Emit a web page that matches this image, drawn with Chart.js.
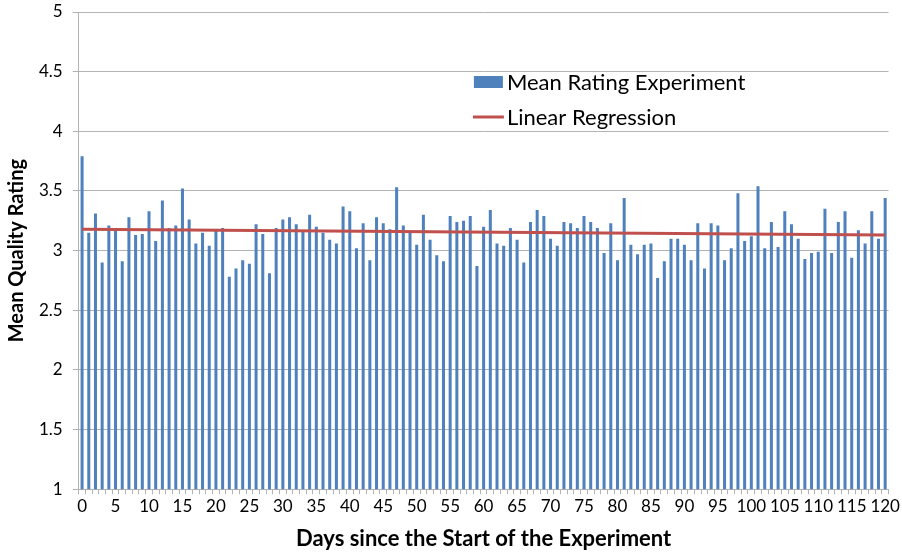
<!DOCTYPE html>
<html>
<head>
<meta charset="utf-8">
<script src="https://cdn.jsdelivr.net/npm/chart.js@4"></script>
<style>
  html, body { margin: 0; padding: 0; background: #fff; }
  #wrap { width: 902px; height: 554px; }
</style>
</head>
<body>
<div id="wrap"><canvas id="ratingChart"></canvas></div>
<script>
// daily mean rating, day 0 .. 120
var days = [];
for (var d = 0; d <= 120; d++) days.push(String(d));

var meanRating = [
  3.79, 3.15, 3.31, 2.90, 3.21, 3.17, 2.91, 3.28, 3.13, 3.14,
  3.33, 3.08, 3.42, 3.19, 3.21, 3.52, 3.26, 3.06, 3.15, 3.04,
  3.17, 3.19, 2.78, 2.85, 2.92, 2.89, 3.22, 3.14, 2.81, 3.19,
  3.26, 3.28, 3.22, 3.16, 3.30, 3.20, 3.15, 3.09, 3.06, 3.37,
  3.33, 3.02, 3.23, 2.92, 3.28, 3.23, 3.18, 3.53, 3.21, 3.15,
  3.05, 3.30, 3.09, 2.96, 2.91, 3.29, 3.24, 3.25, 3.29, 2.87,
  3.20, 3.34, 3.06, 3.04, 3.19, 3.09, 2.90, 3.24, 3.34, 3.29,
  3.10, 3.04, 3.24, 3.23, 3.19, 3.29, 3.24, 3.19, 2.98, 3.23,
  2.92, 3.44, 3.05, 2.97, 3.05, 3.06, 2.77, 2.91, 3.10, 3.10,
  3.05, 2.92, 3.23, 2.85, 3.23, 3.21, 2.92, 3.02, 3.48, 3.08,
  3.12, 3.54, 3.02, 3.24, 3.03, 3.33, 3.22, 3.10, 2.93, 2.98,
  2.99, 3.35, 2.98, 3.24, 3.33, 2.94, 3.17, 3.06, 3.33, 3.10,
  3.44
];

// regression line end points
var regressionDays = ["0", "120"];
var regressionValues = [3.18, 3.13];

var yTicks = [1, 1.5, 2, 2.5, 3, 3.5, 4, 4.5, 5];

var regressionPoints = regressionDays.map(function (d, i) {
  return { x: d, y: regressionValues[i] };
});

var FONT = "Lato, 'Noto Sans', sans-serif";
var gridGrey = '#b3b3b3';

// legend drawn inside the plot area like the original
var innerLegend = {
  id: 'innerLegend',
  afterDraw: function (chart) {
    var ctx = chart.ctx;
    var area = chart.chartArea;
    var x = area.left + (area.right - area.left) * 0.488;
    var y = 82;
    ctx.save();
    ctx.font = '22px ' + FONT;
    ctx.textBaseline = 'middle';
    chart.data.datasets.forEach(function (ds, i) {
      var yy = y + i * 35;
      if (ds.type === 'line') {
        ctx.strokeStyle = ds.borderColor;
        ctx.lineWidth = 3;
        ctx.beginPath();
        ctx.moveTo(x - 1, yy);
        ctx.lineTo(x + 30, yy);
        ctx.stroke();
      } else {
        ctx.fillStyle = ds.backgroundColor;
        ctx.fillRect(x, yy - 6, 29, 12);
      }
      ctx.fillStyle = '#000';
      ctx.fillText(ds.label, x + 33, yy + 1);
    });
    ctx.restore();
  }
};

var config = {
  type: 'bar',
  data: {
    labels: days,
    datasets: [{
      label: 'Mean Rating Experiment',
      data: meanRating,
      backgroundColor: '#4f81bd',
      barPercentage: 0.45,
      categoryPercentage: 1.0,
      order: 2
    }, {
      type: 'line',
      label: 'Linear Regression',
      data: regressionPoints,
      borderColor: '#c0504d',
      borderWidth: 3,
      pointRadius: 0,
      order: 1
    }]
  },
  options: {
    responsive: true,
    maintainAspectRatio: false,
    animation: false,
    layout: { padding: { top: 0, right: 10, left: 5, bottom: 2 } },
    plugins: {
      legend: { display: false },
      tooltip: { enabled: false }
    },
    scales: {
      x: {
        grid: {
          drawOnChartArea: false,
          drawTicks: true,
          tickLength: 5,
          color: gridGrey
        },
        border: { color: gridGrey },
        ticks: {
          autoSkip: false,
          maxRotation: 0,
          color: '#000',
          font: { family: FONT, size: 17 },
          padding: 2,
          callback: function (val, idx) {
            return idx % 5 === 0 ? this.getLabelForValue(val) : '';
          }
        },
        title: {
          display: true,
          text: 'Days since the Start of the Experiment',
          color: '#000',
          font: { family: FONT, size: 22, weight: 'bold' },
          padding: { top: 7, bottom: 0 }
        }
      },
      y: {
        min: 1,
        max: 5,
        afterBuildTicks: function (scale) {
          scale.ticks = yTicks.map(function (v) { return { value: v }; });
        },
        afterFit: function (scale) {
          scale.paddingTop = 12;
        },
        grid: { color: gridGrey, tickLength: 6 },
        border: { color: gridGrey },
        ticks: {
          color: '#000',
          font: { family: FONT, size: 17 },
          padding: 10,
          callback: function (val) { return String(val); }
        },
        title: {
          display: true,
          text: 'Mean Quality Rating',
          color: '#000',
          font: { family: FONT, size: 20, weight: 'bold' },
          padding: { top: 0, bottom: 0 }
        }
      }
    }
  },
  plugins: [innerLegend]
};

var ratingChart = new Chart(document.getElementById('ratingChart'), config);
</script>
</body>
</html>
